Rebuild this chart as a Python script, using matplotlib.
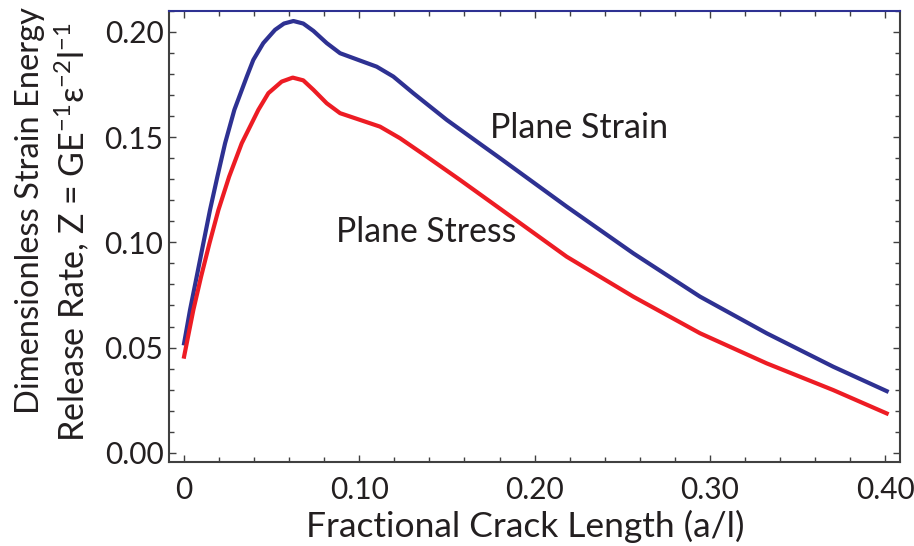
import matplotlib
matplotlib.use("Agg")
import matplotlib.pyplot as plt
from matplotlib.ticker import MultipleLocator, FixedLocator

plt.rcParams['font.family'] = ['Lato', 'DejaVu Sans']
plt.rcParams['mathtext.fontset'] = 'custom'
plt.rcParams['mathtext.rm'] = 'Lato'
plt.rcParams['mathtext.it'] = 'Lato'

# crack length a/l and dimensionless energy release rate Z
strain_x = [0.0, 0.0034, 0.0072, 0.011, 0.0148, 0.019, 0.0234, 0.0287, 0.0358,
            0.0395, 0.0452, 0.0519, 0.0570, 0.0624, 0.0680, 0.0738, 0.0814, 0.0890,
            0.1004, 0.1099, 0.1194, 0.1308, 0.1499, 0.1689, 0.1803, 0.2183,
            0.2563, 0.2944, 0.3324, 0.3704, 0.4009]
strain_z = [0.0520, 0.0679, 0.0837, 0.0996, 0.1154, 0.1312, 0.1471, 0.1630, 0.1788,
            0.1867, 0.1947, 0.2010, 0.2040, 0.2052, 0.2040, 0.2005, 0.1947, 0.1899,
            0.1864, 0.1835, 0.1788, 0.1709, 0.1582, 0.1468, 0.1400, 0.1170,
            0.0948, 0.0742, 0.0568, 0.0409, 0.0293]

stress_x = [0.0, 0.0053, 0.0097, 0.0145, 0.0196, 0.0257, 0.0329, 0.0424, 0.0481,
            0.0557, 0.0620, 0.0680, 0.0738, 0.0814, 0.0890, 0.1004, 0.1118, 0.1232,
            0.1384, 0.1574, 0.1803, 0.2183, 0.2563, 0.2944, 0.3324, 0.3704, 0.4009]
stress_z = [0.0457, 0.0679, 0.0837, 0.0996, 0.1154, 0.1312, 0.1471, 0.1630, 0.1709,
            0.1764, 0.1783, 0.1770, 0.1725, 0.1661, 0.1614, 0.1582, 0.1550, 0.1495,
            0.1408, 0.1297, 0.1160, 0.0932, 0.0742, 0.0568, 0.0425, 0.0298, 0.0187]

x_ticks = [0, 0.10, 0.20, 0.30, 0.40]
x_labels = ['0', '0.10', '0.20', '0.30', '0.40']
y_ticks = [0.00, 0.05, 0.10, 0.15, 0.20]
y_labels = ['0.00', '0.05', '0.10', '0.15', '0.20']

navy = '#2E3192'
red = '#ED1C24'
frame = '#404040'
ink = '#231f20'

fig = plt.figure(figsize=(9.14, 5.46), dpi=100)
ax = fig.add_axes([0.1849, 0.1538, 0.7998, 0.8266])

ax.plot(strain_x, strain_z, color=navy, lw=3.0, solid_joinstyle='round')
ax.plot(stress_x, stress_z, color=red, lw=3.0, solid_joinstyle='round')

ax.text(0.1746, 0.1544, 'Plane Strain', fontsize=24.5, color=ink, va='center')
ax.text(0.0867, 0.1050, 'Plane Stress', fontsize=24.3, color=ink, va='center')

ax.set_xlim(-0.0086, 0.4085)
ax.set_ylim(-0.0044, 0.2101)

ax.xaxis.set_major_locator(FixedLocator(x_ticks))
ax.set_xticklabels(x_labels)
ax.yaxis.set_major_locator(FixedLocator(y_ticks))
ax.set_yticklabels(y_labels)
ax.xaxis.set_minor_locator(MultipleLocator(0.02))
ax.yaxis.set_minor_locator(MultipleLocator(0.01))

ax.tick_params(which='both', direction='in', top=True, right=True,
               color=frame, width=1.0, labelsize=21.5, labelcolor=ink)
ax.tick_params(which='major', length=5)
ax.tick_params(which='minor', length=3.5)
ax.tick_params(axis='x', pad=10)
ax.tick_params(axis='y', pad=4)

for side in ['left', 'bottom', 'right']:
    ax.spines[side].set_color(frame)
    ax.spines[side].set_linewidth(1.5)
ax.spines['top'].set_color(navy)
ax.spines['top'].set_linewidth(1.5)

ax.set_xlabel('Fractional Crack Length (a/l)', fontsize=25.5, color=ink, labelpad=3)
ax.xaxis.set_label_coords(0.487, -0.105)
ax.xaxis.label.set_va('top')
fig.text(0.033, 0.614, 'Dimensionless Strain Energy', rotation=90, fontsize=23.5,
         color=ink, ha='center', va='center')
fig.text(0.079, 0.575, 'Release Rate, Z = GE$^{\\mathrm{-1}}$\u03b5$^{\\mathrm{-2}}$l$^{\\mathrm{-1}}$',
         rotation=90, fontsize=24.5, color=ink, ha='center', va='center')

fig.savefig('out.png', dpi=100)
